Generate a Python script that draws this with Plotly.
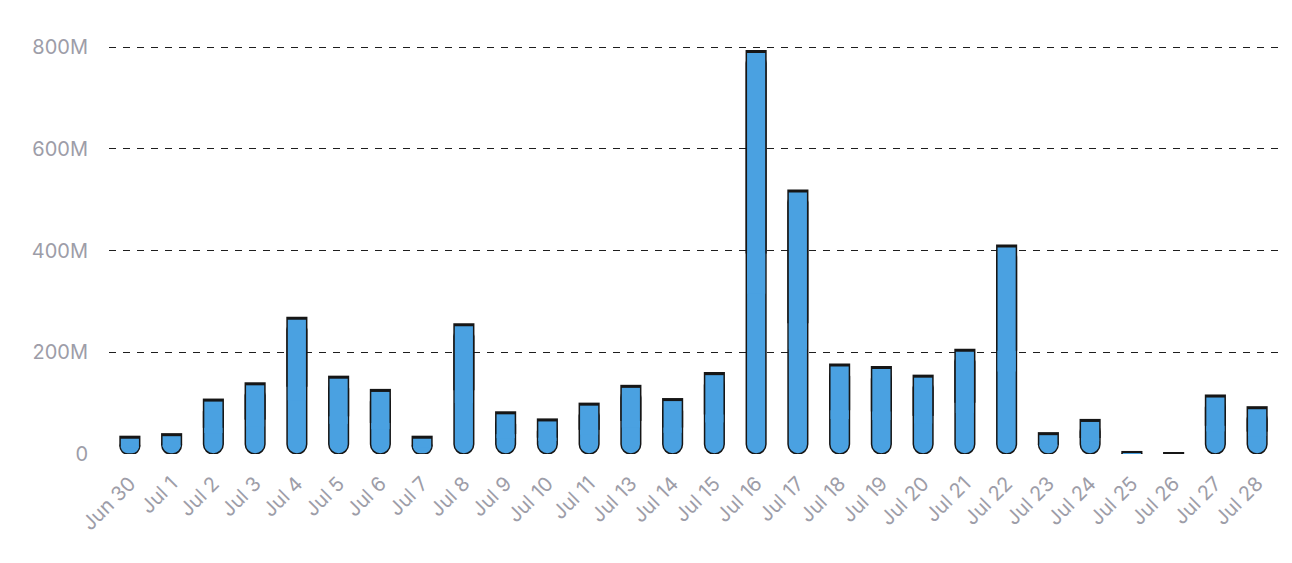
import plotly.graph_objects as go

days = ["Jun 30", "Jul 1", "Jul 2", "Jul 3", "Jul 4", "Jul 5", "Jul 6", "Jul 7",
        "Jul 8", "Jul 9", "Jul 10", "Jul 11", "Jul 13", "Jul 14", "Jul 15", "Jul 16",
        "Jul 17", "Jul 18", "Jul 19", "Jul 20", "Jul 21", "Jul 22", "Jul 23", "Jul 24",
        "Jul 25", "Jul 26", "Jul 27", "Jul 28"]

# main series (blue), in millions
main_vals = [30, 35, 103, 135, 264, 148, 122, 30,
             251, 78, 64, 95, 130, 104, 155, 788,
             514, 172, 167, 150, 201, 406, 37, 63,
             1, 0, 111, 88]

# thin dark cap on top of each bar, in millions
cap_vals = [6, 6, 6, 6, 6, 6, 6, 6,
            6, 6, 6, 6, 6, 6, 6, 6,
            6, 6, 6, 6, 6, 6, 6, 6,
            5, 4, 6, 6]

M = 1e6
main_y = [v * M for v in main_vals]
cap_y = [v * M for v in cap_vals]

BLUE = "#4aa1e1"
INK = "#161616"
W = 0.47
EDGE = 0.036  # outline width in category units (~1.5px)

# top part that gets squared off
block_base = [v * 0.5 for v in main_y]
fill_base = [v * 0.4 for v in main_y]

fig = go.Figure()

# 1) full bar drawn downward from its top -> rounded end on the baseline
#    (plotly rounds both ends here, the top half gets covered below)
fig.add_trace(go.Bar(
    x=days, y=[-v for v in main_y], base=main_y, width=W,
    marker=dict(color=BLUE, line=dict(color=INK, width=1.5), cornerradius=10),
    showlegend=False, hoverinfo="skip",
))

# 2) square dark block over the top half + the cap: side edges and cap
fig.add_trace(go.Bar(
    x=days, y=[v + c - b for v, c, b in zip(main_y, cap_y, block_base)],
    base=block_base, width=W + EDGE,
    marker=dict(color=INK, line=dict(width=0)),
    showlegend=False, hoverinfo="skip",
))

# 3) blue fill inside, starting a bit lower so no seam shows
fig.add_trace(go.Bar(
    x=days, y=[v - b for v, b in zip(main_y, fill_base)],
    base=fill_base, width=W - EDGE,
    marker=dict(color=BLUE, line=dict(width=0)),
    showlegend=False,
))

# page body keeps its default 8px margin, so the figure is 16px smaller
fig.update_layout(
    width=1276, height=547,
    barmode="overlay",
    plot_bgcolor="white", paper_bgcolor="white",
    margin=dict(l=101, r=6, t=38, b=101),
    font=dict(family="Inter, Roboto, sans-serif", size=20, color="#9d9da8"),
)

fig.update_xaxes(
    type="category", tickangle=-45, showgrid=False, showline=False,
    ticks="", ticklabelstandoff=13, automargin=False,
    tickfont=dict(size=20, color="#9d9da8"),
)

fig.update_yaxes(
    range=[0, 802 * M], tickvals=[0, 200 * M, 400 * M, 600 * M, 800 * M],
    ticktext=["0", "200M", "400M", "600M", "800M"],
    showgrid=True, gridcolor="#1e1e1e", gridwidth=1.2, griddash="7px,7px",
    zeroline=False, showline=False, ticks="", ticklabelstandoff=20,
    automargin=False, tickfont=dict(size=20, color="#9d9da8"),
)

fig.write_html("out.html")
